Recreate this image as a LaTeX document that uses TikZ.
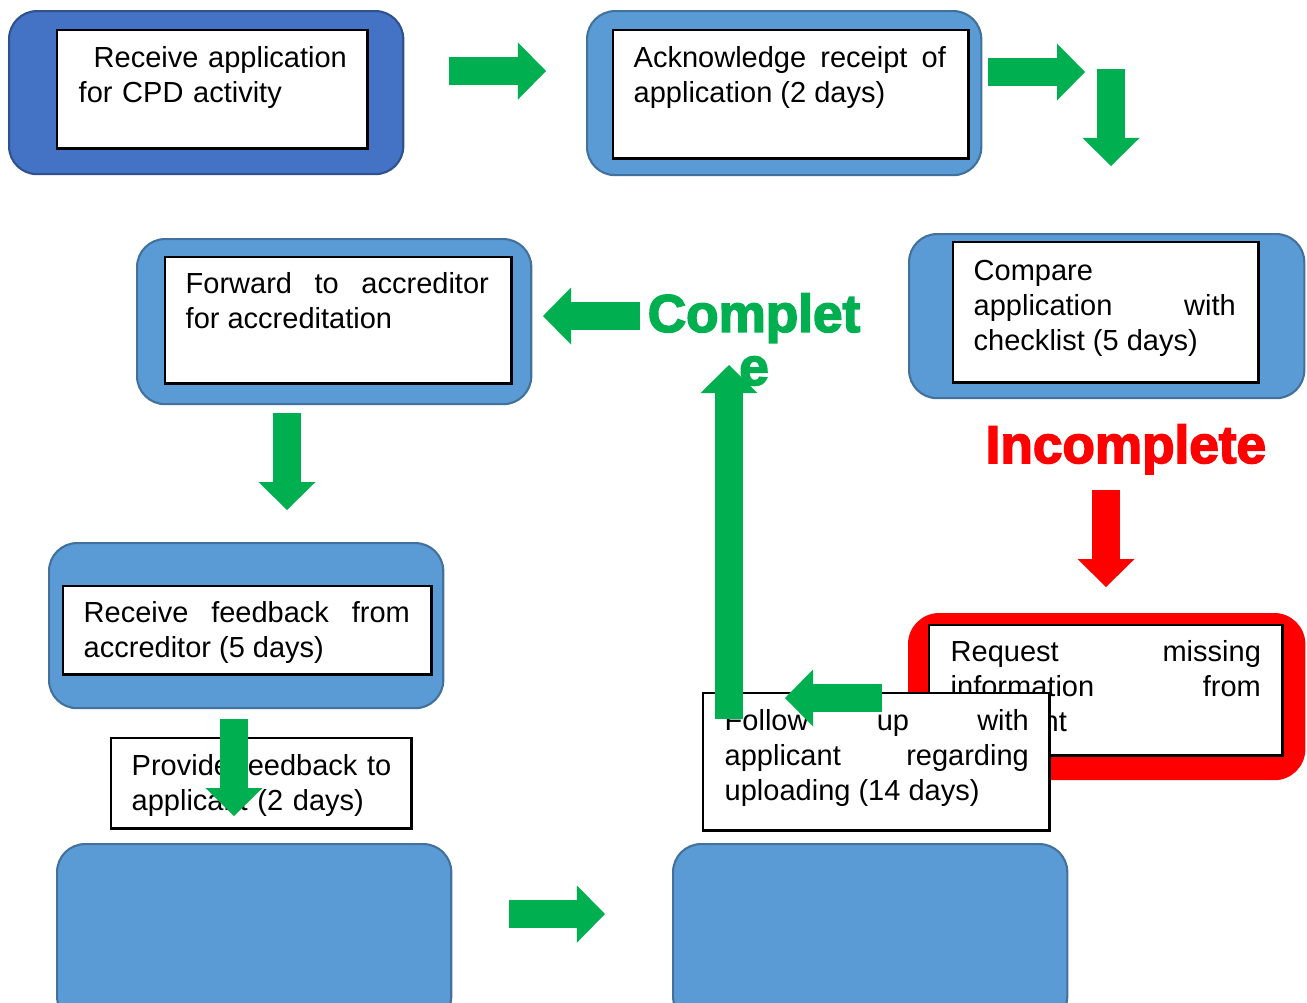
\documentclass[tikz,border=0pt]{standalone}
\usepackage{fontspec}
\setmainfont{Liberation Sans}
\newfontfamily\heavyfont{Liberation Sans}[BoldFeatures={FakeBold=3}]
\usetikzlibrary{arrows.meta}
\definecolor{darkblue}{HTML}{4472C4}
\definecolor{darkblueline}{HTML}{2F528F}
\definecolor{lightblue}{HTML}{5B9BD5}
\definecolor{lightblueline}{HTML}{41719C}
\definecolor{arrowgreen}{HTML}{00B050}
\definecolor{alertred}{HTML}{FF0000}
\setlength{\parindent}{0pt}

\begin{document}
\begin{tikzpicture}[
  x=0.01cm, y=0.01cm,
  every node/.style = {font=\fontsize{8.25pt}{9.96pt}\selectfont},
  outerbox/.style = {rectangle, rounded corners=0.28cm, fill=lightblue, draw=lightblueline, line width=0.6pt, anchor=north west, inner sep=0pt},
  innerbox/.style = {rectangle, fill=white, draw=black, line width=0.7pt, anchor=north west, inner sep=0pt},
  steptext/.style = {anchor=base west, inner sep=0pt, align=justify},
  flowarrow/.style = {line width=0.28cm, draw=arrowgreen, -{Triangle[length=0.28cm, width=0.57cm, line width=0pt]}},
  bigword/.style = {font=\heavyfont\bfseries\fontsize{15.1pt}{15.1pt}\selectfont, inner sep=0pt}
]

\clip (0,0) rectangle (1307,-1002);

% Arrow end points
\coordinate (a1s) at (449,-71);   \coordinate (a1e) at (546,-71);
\coordinate (a2s) at (988,-72);   \coordinate (a2e) at (1085,-72);
\coordinate (a3s) at (1111,-69);  \coordinate (a3e) at (1111,-166);
\coordinate (ars) at (1106,-490); \coordinate (are) at (1106,-587);
\coordinate (a4s) at (640,-316);  \coordinate (a4e) at (543,-316);
\coordinate (a5s) at (287,-413);  \coordinate (a5e) at (287,-510);
\coordinate (a6s) at (234,-719);  \coordinate (a6e) at (234,-816);
\coordinate (a7s) at (509,-914);  \coordinate (a7e) at (605,-914);
\coordinate (a8s) at (882,-698);  \coordinate (a8e) at (785,-698);
\coordinate (a9s) at (729,-719);  \coordinate (a9e) at (729,-365);

% Receive application
\node[outerbox, fill=darkblue, draw=darkblueline, minimum width=3.94cm, minimum height=1.63cm] (recvout) at (8,-10) {};
\node[innerbox, minimum width=3.10cm, minimum height=1.18cm] (recvbox) at (56,-29) {};
\node[steptext, text width=2.8cm, align=left] (recvtxt) at (78,-67) {\hspace*{0.15cm}Receive application\\for CPD activity};

% Acknowledge
\node[outerbox, minimum width=3.94cm, minimum height=1.64cm] (ackout) at (586,-10) {};
\node[innerbox, minimum width=3.55cm, minimum height=1.28cm] (ackbox) at (612,-29) {};
\node[steptext, text width=3.12cm] (acktxt) at (633,-67) {Acknowledge receipt of\linebreak application (2 days)};

\draw[flowarrow] (a1s) -- (a1e);
\draw[flowarrow] (a2s) -- (a2e);
\draw[flowarrow] (a3s) -- (a3e);

% Compare with checklist
\node[outerbox, minimum width=3.95cm, minimum height=1.64cm] (cmpout) at (908,-233) {};
\node[innerbox, minimum width=3.05cm, minimum height=1.40cm] (cmpbox) at (952,-241) {};
\node[steptext, text width=2.62cm] (cmptxt) at (973,-280) {Compare\\application with\linebreak checklist (5 days)};

\node[bigword, text=alertred, anchor=base west] (incomplete) at (985,-463) {Incomplete};
\draw[flowarrow, draw=alertred] (ars) -- (are);

% Forward to accreditor
\node[outerbox, minimum width=3.94cm, minimum height=1.65cm] (fwdout) at (136,-238) {};
\node[innerbox, minimum width=3.46cm, minimum height=1.26cm] (fwdbox) at (164,-256) {};
\node[steptext, text width=3.03cm] (fwdtxt) at (185,-293) {Forward to accreditor\linebreak for accreditation};
\draw[flowarrow] (a4s) -- (a4e);
\draw[flowarrow] (a5s) -- (a5e);

% Receive feedback
\node[outerbox, minimum width=3.94cm, minimum height=1.65cm] (fbout) at (48,-542) {};
\node[innerbox, minimum width=3.68cm, minimum height=0.88cm] (fbbox) at (62,-585) {};
\node[steptext, text width=3.26cm] (fbtxt) at (83,-622) {Receive feedback from\linebreak accreditor (5 days)};

% Request missing information
\node[outerbox, rounded corners=0.3cm, fill=alertred, draw=alertred, minimum width=3.95cm, minimum height=1.65cm] (reqout) at (908,-613) {};
\node[innerbox, minimum width=3.53cm, minimum height=1.30cm] (reqbox) at (928,-624) {};
\node[steptext, text width=3.10cm] (reqtxt) at (950,-661) {Request missing\linebreak information from\linebreak applicant};

% Follow up
\node[innerbox, minimum width=3.46cm, minimum height=1.37cm] (follbox) at (702,-692) {};
\node[steptext, text width=3.04cm] (folltxt) at (724,-730) {Follow up with\linebreak applicant regarding\linebreak uploading (14 days)};
\draw[flowarrow] (a9s) -- (a9e);
\draw[flowarrow] (a8s) -- (a8e);

\node[bigword, text=arrowgreen, align=center, anchor=base] (complete) at (754,-385) {Complet\\e};

% Provide feedback
\node[innerbox, minimum width=3.00cm, minimum height=0.90cm] (provbox) at (110,-737) {};
\node[steptext, text width=2.7cm, align=left] (provtxt) at (131,-775) {Provide feedback to\\applicant (2 days)};
\draw[flowarrow] (a6s) -- (a6e);

% Empty bottom boxes
\node[outerbox, minimum width=3.94cm, minimum height=1.8cm] (lastleft) at (56,-843) {};
\node[outerbox, minimum width=3.94cm, minimum height=1.8cm] (lastright) at (672,-843) {};
\draw[flowarrow] (a7s) -- (a7e);

\end{tikzpicture}
\end{document}
